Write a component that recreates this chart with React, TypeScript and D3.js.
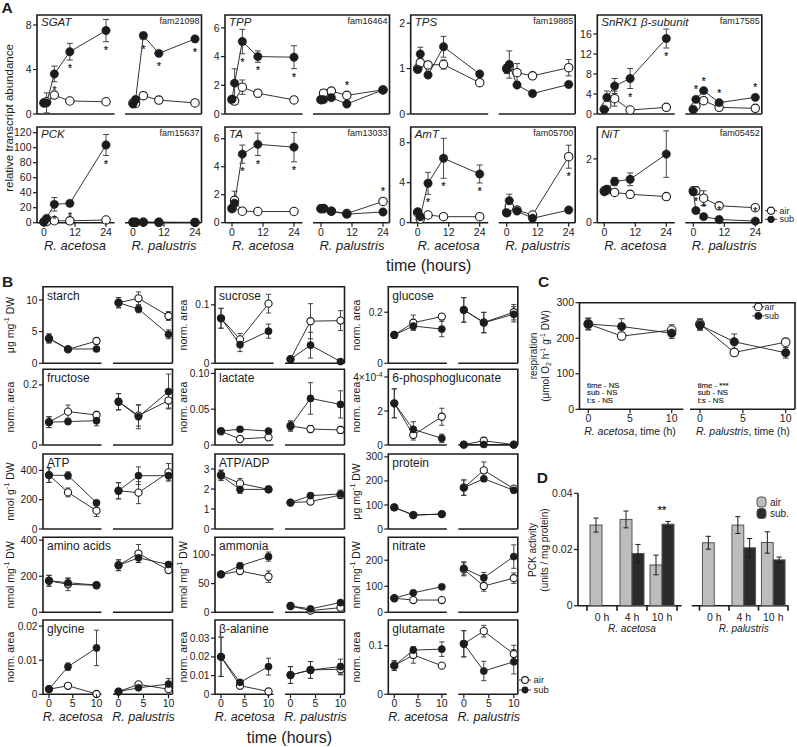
import React from 'react';
import * as d3 from 'd3';

const FONT = "'Liberation Sans', Arial, Helvetica, sans-serif";
const INK = '#1c1c1c';
const FRAME_W = 1.6;

// ================= Panel A data =================
const A_TIMES = [0, 1, 4, 10, 24];
const A_XTICKS = [0, 12, 24];
const A_GENES = ['SGAT', 'TPP', 'TPS', 'SnRK1 β-subunit', 'PCK', 'TA', 'AmT', 'NiT'];
const A_FAMS = ['fam21098', 'fam16464', 'fam19885', 'fam17585', 'fam15637', 'fam13033', 'fam05700', 'fam05452'];
const A_YMAX = [8.9, 6.9, 2.18, 19.8, 127.6, 6.84, 9.57, 3.0];
const A_YTICKS = [[0, 4, 8], [0, 2, 4, 6], [0, 1, 2], [0, 4, 8, 12, 16], [0, 20, 40, 60, 80, 100, 120], [0, 2, 4, 6], [0, 4, 8], [0, 2]];

const SGAT = {
  ace: { air: [1.0, 1.1, 1.7, 1.17, 1.1], airE: [0.1, 0.15, 0.2, 0.1, 0.08], sub: [1.0, 1.0, 3.6, 5.6, 7.5], subE: [0.15, 0.9, 0.7, 0.75, 1.0] },
  pal: { air: [1.0, 0.95, 1.65, 1.25, 1.0], airE: [0.05, 0.1, 0.3, 0.1, 0.05], sub: [0.9, 1.3, 7.05, 5.45, 6.75], subE: [0.1, 0.2, 0.3, 0.2, 0.1] },
};
const TPP = {
  ace: { air: [1.0, 0.9, 1.87, 1.45, 0.98], airE: [0.1, 0.1, 0.5, 0.25, 0.1], sub: [1.03, 2.15, 5.05, 4.0, 3.96], subE: [0.1, 1.0, 0.85, 0.4, 0.8] },
  pal: { air: [1.0, 1.45, 1.6, 1.3, 1.68], airE: [0.05, 0.25, 0.1, 0.1, 0.1], sub: [1.0, 1.0, 1.14, 0.7, 1.68], subE: [0.05, 0.05, 0.1, 0.05, 0.05] },
};
const TPS = {
  ace: { air: [1.0, 1.13, 1.08, 1.09, 0.69], airE: [0.05, 0.1, 0.08, 0.1, 0.07], sub: [0.98, 1.32, 0.86, 1.48, 0.88], subE: [0.06, 0.15, 0.06, 0.23, 0.05] },
  pal: { air: [1.0, 1.05, 0.91, 0.84, 1.02], airE: [0.05, 0.1, 0.2, 0.05, 0.18], sub: [0.99, 1.09, 0.64, 0.45, 0.65], subE: [0.1, 0.3, 0.05, 0.03, 0.03] },
};
const SNRK1 = {
  ace: { air: [1.0, 1.8, 3.07, 0.8, 1.33], airE: [0.1, 0.5, 1.5, 0.1, 0.1], sub: [0.93, 3.3, 5.6, 7.1, 15.1], subE: [0.1, 1.3, 1.5, 2.0, 1.9] },
  pal: { air: [1.0, 1.6, 2.67, 1.33, 1.13], airE: [0.1, 0.3, 0.4, 0.2, 0.1], sub: [0.93, 2.93, 4.67, 2.27, 3.33], subE: [0.1, 0.3, 0.3, 0.2, 0.2] },
};
const PCK = {
  ace: { air: [1.0, 1.5, 2.6, 2.5, 3.6], airE: [0.3, 0.5, 0.8, 0.8, 0.8], sub: [1.3, 5.8, 24.5, 25.8, 103.6], subE: [0.5, 1.5, 9, 4, 14] },
  pal: { air: [0.5, 0.5, 0.6, 0.5, 0.4], airE: [0.2, 0.2, 0.2, 0.2, 0.2], sub: [0.6, 0.6, 0.8, 0.5, 0.4], subE: [0.2, 0.2, 0.2, 0.2, 0.2] },
};
const TA = {
  ace: { air: [1.0, 1.6, 0.82, 0.8, 0.8], airE: [0.1, 0.65, 0.05, 0.05, 0.05], sub: [1.03, 1.4, 4.9, 5.6, 5.4], subE: [0.2, 0.2, 0.65, 0.8, 1.05] },
  pal: { air: [1.0, 1.0, 0.82, 0.65, 1.52], airE: [0.05, 0.05, 0.05, 0.05, 0.05], sub: [1.0, 1.03, 0.82, 0.61, 0.77], subE: [0.05, 0.05, 0.05, 0.05, 0.05] },
};
const AMT = {
  ace: { air: [1.0, 0.37, 0.77, 0.6, 0.6], airE: [0.05, 0.1, 0.1, 0.05, 0.05], sub: [1.1, 0.6, 3.94, 6.44, 4.87], subE: [0.1, 0.1, 1.1, 2.0, 0.9] },
  pal: { air: [1.0, 1.6, 1.27, 0.77, 6.6], airE: [0.05, 0.3, 0.15, 0.1, 1.15], sub: [1.0, 2.2, 1.17, 0.44, 1.27], subE: [0.05, 0.65, 0.1, 0.05, 0.05] },
};
const NIT = {
  ace: { air: [1.0, 1.02, 0.95, 0.89, 0.82], airE: [0.05, 0.08, 0.05, 0.07, 0.05], sub: [0.97, 1.05, 1.29, 1.36, 2.15], subE: [0.05, 0.1, 0.13, 0.2, 0.73] },
  pal: { air: [1.0, 1.0, 0.77, 0.53, 0.47], airE: [0.05, 0.12, 0.23, 0.06, 0.07], sub: [0.97, 0.38, 0.19, 0.1, 0.05], subE: [0.1, 0.03, 0.03, 0.02, 0.02] },
};
const A_DATA = [SGAT, TPP, TPS, SNRK1, PCK, TA, AMT, NIT];

// significance asterisks: [species, time index, series, side (b = below, a = above)]
const A_STARS = [
  [['ace', 2, 'sub', 'b'], ['ace', 3, 'sub', 'b'], ['ace', 4, 'sub', 'b'], ['pal', 2, 'sub', 'b'], ['pal', 3, 'sub', 'b'], ['pal', 4, 'sub', 'b']],
  [['ace', 2, 'sub', 'b'], ['ace', 3, 'sub', 'b'], ['ace', 4, 'sub', 'b'], ['pal', 3, 'air', 'a']],
  [],
  [['ace', 3, 'sub', 'b'], ['ace', 4, 'sub', 'b'], ['pal', 1, 'sub', 'a'], ['pal', 2, 'sub', 'a'], ['pal', 3, 'sub', 'a'], ['pal', 4, 'sub', 'a']],
  [['ace', 2, 'sub', 'b'], ['ace', 3, 'sub', 'b'], ['ace', 4, 'sub', 'b']],
  [['ace', 2, 'sub', 'b'], ['ace', 3, 'sub', 'b'], ['ace', 4, 'sub', 'b'], ['pal', 4, 'air', 'a']],
  [['ace', 2, 'sub', 'b'], ['ace', 3, 'sub', 'b'], ['ace', 4, 'sub', 'b'], ['pal', 4, 'air', 'b']],
  [['pal', 1, 'sub', 'a'], ['pal', 2, 'sub', 'a'], ['pal', 3, 'sub', 'a'], ['pal', 4, 'sub', 'a']],
];

// ================= Panel B data =================
const B_TIMES = [0, 4, 10];
const B_XTICKS = [0, 5, 10];
const B_NAMES = ['starch', 'sucrose', 'glucose', 'fructose', 'lactate', '6-phosphogluconate', 'ATP', 'ATP/ADP', 'protein', 'amino acids', 'ammonia', 'nitrate', 'glycine', 'β-alanine', 'glutamate'];
const B_UNITS = ['ug', 'norm', 'norm', 'norm', 'norm', 'norm', 'nmolg', '', 'ug', 'nmolmg', 'nmolmg', 'nmolmg', 'norm', 'norm', 'norm'];
const B_YMAX = [12.1, 0.131, 0.30, 0.252, 0.1057, 4.45e-4, 512, 3.75, 312, 416, 130.7, 288, 0.0218, 0.0397, 0.153];
const B_YTICKS = [[0, 5, 10], [0, 0.1], [0, 0.2], [0, 0.2], [0, 0.05, 0.1], [0, 2e-4, 4e-4], [0, 200, 400], [0, 1, 2, 3], [0, 100, 200, 300], [0, 200, 400], [0, 50, 100], [0, 100, 200], [0, 0.01, 0.02], [0, 0.01, 0.02, 0.03], [0, 0.1]];
const B_YTICKLABELS = [['0', '5', '10'], ['0', '0.1'], ['0', '0.2'], ['0', '0.2'], ['0', '0.05', '0.10'], ['0', '2', 'SCI4'], ['0', '200', '400'], ['0', '1', '2', '3'], ['0', '100', '200', '300'], ['0', '200', '400'], ['0', '50', '100'], ['0', '100', '200'], ['0', '0.01', '0.02'], ['0', '0.01', '0.02', '0.03'], ['0', '0.1']];

const STARCH = {
  ace: { air: [3.9, 2.2, 3.52], airE: [0.7, 0.2, 0.5], sub: [3.95, 2.26, 2.26], subE: [0.7, 0.2, 0.3] },
  pal: { air: [9.57, 10.27, 7.47], airE: [0.8, 1.0, 0.7], sub: [9.57, 8.58, 4.58], subE: [0.8, 0.6, 0.7] },
};
const SUCROSE = {
  ace: { air: [0.077, 0.041, 0.102], airE: [0.017, 0.01, 0.016], sub: [0.077, 0.032, 0.055], subE: [0.017, 0.012, 0.012] },
  pal: { air: [0.007, 0.072, 0.073], airE: [0.002, 0.03, 0.017], sub: [0.007, 0.031, 0.003], subE: [0.002, 0.022, 0.002] },
};
const GLUCOSE = {
  ace: { air: [0.111, 0.159, 0.183], airE: [0.01, 0.03, 0.012], sub: [0.111, 0.146, 0.134], subE: [0.01, 0.015, 0.03] },
  pal: { air: [0.209, 0.16, 0.2], airE: [0.048, 0.04, 0.03], sub: [0.209, 0.159, 0.192], subE: [0.048, 0.04, 0.03] },
};
const FRUCTOSE = {
  ace: { air: [0.076, 0.111, 0.1], airE: [0.018, 0.022, 0.012], sub: [0.076, 0.078, 0.081], subE: [0.018, 0.005, 0.017] },
  pal: { air: [0.144, 0.098, 0.148], airE: [0.027, 0.035, 0.025], sub: [0.144, 0.094, 0.178], subE: [0.027, 0.04, 0.058] },
};
const LACTATE = {
  ace: { air: [0.019, 0.0084, 0.0107], airE: [0.004, 0.002, 0.002], sub: [0.0195, 0.022, 0.0195], subE: [0.004, 0.003, 0.003] },
  pal: { air: [0.0265, 0.0223, 0.021], airE: [0.007, 0.005, 0.005], sub: [0.0265, 0.065, 0.0567], subE: [0.007, 0.022, 0.019] },
};
const PGLUC = {
  ace: { air: [2.45e-4, 0.59e-4, 1.66e-4], airE: [0.85e-4, 0.3e-4, 0.5e-4], sub: [2.45e-4, 0.92e-4, 0.39e-4], subE: [0.85e-4, 0.45e-4, 0.25e-4] },
  pal: { air: [0.02e-4, 0.25e-4, 0.02e-4], airE: [0.02e-4, 0.2e-4, 0.02e-4], sub: [0.02e-4, 0.03e-4, 0.02e-4], subE: [0.02e-4, 0.02e-4, 0.02e-4] },
};
const ATP = {
  ace: { air: [368, 250, 125], airE: [50, 30, 40], sub: [368, 365, 179], subE: [50, 25, 15] },
  pal: { air: [261, 248, 387], airE: [55, 75, 60], sub: [261, 364, 364], subE: [55, 60, 30] },
};
const ATPADP = {
  ace: { air: [2.7, 2.28, 1.98], airE: [0.25, 0.25, 0.15], sub: [2.67, 1.98, 1.98], subE: [0.25, 0.2, 0.15] },
  pal: { air: [1.32, 1.37, 1.7], airE: [0.1, 0.1, 0.15], sub: [1.32, 1.67, 1.75], subE: [0.1, 0.12, 0.2] },
};
const PROTEIN = {
  ace: { air: [90, 58, 62], airE: [12, 5, 5], sub: [90, 58, 62], subE: [12, 5, 5] },
  pal: { air: [172, 244, 168], airE: [32, 35, 10], sub: [172, 209, 161], subE: [32, 10, 10] },
};
const AMINO = {
  ace: { air: [175, 155, 150], airE: [30, 35, 15], sub: [175, 164, 151], subE: [30, 25, 15] },
  pal: { air: [261, 326, 234], airE: [30, 50, 10], sub: [261, 302, 265], subE: [30, 25, 15] },
};
const AMMONIA = {
  ace: { air: [66, 72, 62], airE: [3, 5, 10], sub: [66, 81, 97], subE: [3, 5, 8] },
  pal: { air: [11, 3, 8], airE: [2, 2, 3], sub: [11, 6, 17], subE: [2, 3, 4] },
};
const NITRATE = {
  ace: { air: [54, 47, 47], airE: [5, 5, 5], sub: [54, 75, 98], subE: [5, 5, 5] },
  pal: { air: [165, 101, 131], airE: [25, 20, 20], sub: [169, 133, 214], subE: [25, 20, 45] },
};
const GLYCINE = {
  ace: { air: [0.0015, 0.0025, 0.0001], airE: [0.0003, 0.0005, 0.0002], sub: [0.0015, 0.0081, 0.0136], subE: [0.0003, 0.0011, 0.0052] },
  pal: { air: [0.0008, 0.0029, 0.0015], airE: [0.0003, 0.0006, 0.0008], sub: [0.0008, 0.0019, 0.003], subE: [0.0003, 0.0005, 0.0016] },
};
const BALANINE = {
  ace: { air: [0.02, 0.0046, 0.0015], airE: [0.0105, 0.001, 0.0005], sub: [0.0201, 0.0064, 0.0148], subE: [0.0105, 0.001, 0.0045] },
  pal: { air: [0.0103, 0.013, 0.0134], airE: [0.0045, 0.0045, 0.003], sub: [0.0103, 0.013, 0.0148], subE: [0.0045, 0.0045, 0.004] },
};
const GLUTAMATE = {
  ace: { air: [0.059, 0.081, 0.059], airE: [0.01, 0.017, 0.004], sub: [0.059, 0.091, 0.093], subE: [0.01, 0.006, 0.015] },
  pal: { air: [0.104, 0.13, 0.083], airE: [0.027, 0.012, 0.018], sub: [0.104, 0.048, 0.067], subE: [0.027, 0.02, 0.025] },
};
const B_DATA = [STARCH, SUCROSE, GLUCOSE, FRUCTOSE, LACTATE, PGLUC, ATP, ATPADP, PROTEIN, AMINO, AMMONIA, NITRATE, GLYCINE, BALANINE, GLUTAMATE];

// ================= Panel C data =================
const C_TIMES = [0, 4, 10];
const C_XTICKS = [0, 5, 10];
const C_YTICKS = [0, 100, 200, 300];
const RESP = {
  ace: { air: [240, 206, 223], airE: [15, 10, 15], sub: [240, 233, 214], subE: [17, 22, 15] },
  pal: { air: [240, 160, 189], airE: [15, 5, 10], sub: [237, 190, 159], subE: [15, 22, 15] },
};
const C_STATS_ACE = ['time - NS', 'sub - NS', 't:s - NS'];
const C_STATS_PAL = ['time - ***', 'sub - NS', 't:s - NS'];

// ================= Panel D data =================
const D_GROUPS = ['0 h', '4 h', '10 h'];
const D_YTICKS = [0, 0.02, 0.04];
const D_ACE_AIR = [0.0287, 0.0307, 0.0145];
const D_ACE_AIR_E = [0.0025, 0.003, 0.0035];
const D_ACE_SUB = [null, 0.0186, 0.029];
const D_ACE_SUB_E = [null, 0.0032, 0.001];
const D_PAL_AIR = [0.0224, 0.0287, 0.0225];
const D_PAL_AIR_E = [0.0023, 0.003, 0.0038];
const D_PAL_SUB = [null, 0.0206, 0.0163];
const D_PAL_SUB_E = [null, 0.0033, 0.001];

// ================= layout =================
const A_COL_L = [37, 225, 410.7, 597.3];
const A_ROW_T = [15, 127];
const A_ROW_B = [114, 222.7];
const A_W = 164.5;

const B_COL_L = [43, 215, 388.3];
const B_ROW_T = [286.7, 369.3, 454, 537.3, 620];
const B_ROW_B = [363.3, 445, 529, 612.3, 694.3];
const B_W = 129.5;
const B_YLAB_X = [10, 183, 356];

function Marks({ times, s, x, y, r, cap }: any) {
  const line = d3.line<number>().x((_, i) => x(times[i])).y((v) => y(v));
  const bars = (vals: number[], errs: number[], k: string) =>
    vals.map((v, i) => {
      const e = errs[i] || 0;
      const cx = x(times[i]);
      const y1 = y(v + e);
      const y2 = y(Math.max(0, v - e));
      return (
        <g key={k + i}>
          <line x1={cx} x2={cx} y1={y1} y2={y2} />
          <line x1={cx - cap} x2={cx + cap} y1={y1} y2={y1} />
          <line x1={cx - cap} x2={cx + cap} y1={y2} y2={y2} />
        </g>
      );
    });
  return (
    <g>
      <g fill="none" stroke={INK} strokeWidth={0.9}>
        <path d={line(s.air) || ''} />
        <path d={line(s.sub) || ''} />
      </g>
      <g stroke="#333" strokeWidth={0.9}>
        {bars(s.air, s.airE, 'a')}
        {bars(s.sub, s.subE, 's')}
      </g>
      {s.air.map((v: number, i: number) => (
        <circle key={'ca' + i} cx={x(times[i])} cy={y(v)} r={r} fill="#fff" stroke={INK} strokeWidth={1.1} />
      ))}
      {s.sub.map((v: number, i: number) => (
        <circle key={'cs' + i} cx={x(times[i])} cy={y(v)} r={r} fill={INK} stroke={INK} strokeWidth={0.5} />
      ))}
    </g>
  );
}

function YAxis({ L, y, ticks, labels, fs }: any) {
  return (
    <g>
      {ticks.map((t: number, i: number) => (
        <g key={i}>
          <line x1={L - 4} x2={L} y1={y(t)} y2={y(t)} stroke={INK} strokeWidth={1.2} />
          <text x={L - 5.5} y={y(t)} dy="0.35em" textAnchor="end" fontSize={fs}>
            {labels ? labels[i] : String(t)}
          </text>
        </g>
      ))}
    </g>
  );
}

function Frame({ L, R, T, B, segs }: any) {
  return (
    <g stroke={INK} strokeWidth={FRAME_W} fill="none">
      <path d={`M${L},${B}V${T}H${R}V${B}`} />
      {segs.map((s: number[], i: number) => (
        <line key={i} x1={s[0]} x2={s[1]} y1={B} y2={B} />
      ))}
    </g>
  );
}

function PanelA({ idx }: { idx: number }) {
  const row = Math.floor(idx / 4);
  const col = idx % 4;
  const L = A_COL_L[col];
  const R = L + A_W;
  const T = A_ROW_T[row];
  const B = A_ROW_B[row];
  const y = d3.scaleLinear().domain([0, A_YMAX[idx]]).range([B, T]);
  const xs: any = {
    ace: d3.scaleLinear().domain([0, 24]).range([L + 7, L + 69]),
    pal: d3.scaleLinear().domain([0, 24]).range([L + 96, L + 158]),
  };
  const data: any = A_DATA[idx];
  return (
    <g>
      <Frame L={L} R={R} T={T} B={B} segs={[[L, L + 77.5], [L + 88, R]]} />
      <YAxis L={L} y={y} ticks={A_YTICKS[idx]} fs={10.5} />
      {['ace', 'pal'].map((sp) => (
        <Marks key={sp} times={A_TIMES} s={data[sp]} x={xs[sp]} y={y} r={4.2} cap={3} />
      ))}
      <g fill="#222" stroke="#222" strokeWidth={0.25}>
        {A_STARS[idx].map((st: any, i: number) => {
          const [sp, ti, ser, side] = st;
          const v = data[sp][ser][ti];
          const e = data[sp][ser + 'E'][ti];
          const cx = xs[sp](A_TIMES[ti]);
          const cy = side === 'b' ? Math.max(y(v - e), y(v) + 5) + 6.5 : Math.min(y(v + e), y(v) - 5) - 6.5;
          return (
            <text key={i} x={cx} y={cy + 5.5} fontSize={10} textAnchor="middle">*</text>
          );
        })}
      </g>
      <text x={L + 4} y={T + 11} fontSize={11.5} fontStyle="italic">{A_GENES[idx]}</text>
      <text x={R - 2} y={T + 9} fontSize={9} textAnchor="end">{A_FAMS[idx]}</text>
      {row === 1 && (
        <g>
          {['ace', 'pal'].map((sp) => (
            <g key={sp}>
              {A_XTICKS.map((t) => (
                <g key={t}>
                  <line x1={xs[sp](t)} x2={xs[sp](t)} y1={B} y2={B + 4} stroke={INK} strokeWidth={1.2} />
                  <text x={xs[sp](t)} y={B + 13} fontSize={10.5} textAnchor="middle">{t}</text>
                </g>
              ))}
              <text x={(xs[sp](0) + xs[sp](24)) / 2} y={B + 27} fontSize={13} fontStyle="italic" textAnchor="middle">
                {sp === 'ace' ? 'R. acetosa' : 'R. palustris'}
              </text>
            </g>
          ))}
        </g>
      )}
    </g>
  );
}

function UnitLabel({ kind, x, y, fs }: any) {
  if (!kind) return null;
  const up = -fs * 0.4;
  let content: any = 'norm. area';
  if (kind === 'ug' || kind === 'nmolg' || kind === 'nmolmg') {
    const pre = kind === 'ug' ? 'μg mg' : kind === 'nmolg' ? 'nmol g' : 'nmol mg';
    content = (
      <>
        {pre}
        <tspan dy={up} fontSize={fs * 0.7}>-1</tspan>
        <tspan dy={-up}> DW</tspan>
      </>
    );
  }
  return (
    <text transform={`translate(${x},${y}) rotate(-90)`} textAnchor="middle" dy="0.35em" fontSize={fs}>
      {content}
    </text>
  );
}

function tickLabel(l: string) {
  if (l === 'SCI4') {
    return (
      <>
        4×10<tspan dy={-4} fontSize={7.5}>-4</tspan>
      </>
    );
  }
  return l;
}

function PanelB({ idx }: { idx: number }) {
  const row = Math.floor(idx / 3);
  const col = idx % 3;
  const L = B_COL_L[col];
  const R = L + B_W;
  const T = B_ROW_T[row];
  const B = B_ROW_B[row];
  const y = d3.scaleLinear().domain([0, B_YMAX[idx]]).range([B, T]);
  const xs: any = {
    ace: d3.scaleLinear().domain([0, 10]).range([L + 6, L + 53.5]),
    pal: d3.scaleLinear().domain([0, 10]).range([L + 75.5, L + 125.5]),
  };
  const data: any = B_DATA[idx];
  return (
    <g>
      <Frame L={L} R={R} T={T} B={B} segs={[[L, L + 58.5], [L + 70, R]]} />
      <YAxis L={L} y={y} ticks={B_YTICKS[idx]} labels={B_YTICKLABELS[idx].map(tickLabel)} fs={10.2} />
      {['ace', 'pal'].map((sp) => (
        <Marks key={sp} times={B_TIMES} s={data[sp]} x={xs[sp]} y={y} r={3.6} cap={2.6} />
      ))}
      <text x={L + 4} y={T + 13} fontSize={12}>{B_NAMES[idx]}</text>
      <UnitLabel kind={B_UNITS[idx]} x={B_YLAB_X[col]} y={(T + B) / 2} fs={10.5} />
      {row === 4 && (
        <g>
          {['ace', 'pal'].map((sp) => (
            <g key={sp}>
              {B_XTICKS.map((t) => (
                <g key={t}>
                  <line x1={xs[sp](t)} x2={xs[sp](t)} y1={B} y2={B + 4} stroke={INK} strokeWidth={1.2} />
                  <text x={xs[sp](t)} y={B + 12.5} fontSize={10.5} textAnchor="middle">{t}</text>
                </g>
              ))}
              <text x={(xs[sp](0) + xs[sp](10)) / 2} y={B + 26.5} fontSize={12.5} fontStyle="italic" textAnchor="middle">
                {sp === 'ace' ? 'R. acetosa' : 'R. palustris'}
              </text>
            </g>
          ))}
        </g>
      )}
    </g>
  );
}

function Legend({ x, y1, y2, tx, r, fs }: any) {
  return (
    <g fontSize={fs}>
      <line x1={x - 6} x2={x + 6} y1={y1} y2={y1} stroke={INK} strokeWidth={0.9} />
      <circle cx={x} cy={y1} r={r} fill="#fff" stroke={INK} strokeWidth={1.1} />
      <text x={tx} y={y1} dy="0.35em">air</text>
      <line x1={x - 6} x2={x + 6} y1={y2} y2={y2} stroke={INK} strokeWidth={0.9} />
      <circle cx={x} cy={y2} r={r} fill={INK} />
      <text x={tx} y={y2} dy="0.35em">sub</text>
    </g>
  );
}

function PanelC() {
  const L = 579.5;
  const R = 795;
  const T = 302.7;
  const B = 409.3;
  const y = d3.scaleLinear().domain([0, 300]).range([B, T]);
  const xs: any = {
    ace: d3.scaleLinear().domain([0, 10]).range([588.3, 671.7]),
    pal: d3.scaleLinear().domain([0, 10]).range([700, 785.7]),
  };
  return (
    <g>
      <Frame L={L} R={R} T={T} B={B} segs={[[L, 683.3], [690, R]]} />
      <YAxis L={L} y={y} ticks={C_YTICKS} fs={10.5} />
      {['ace', 'pal'].map((sp) => (
        <g key={sp}>
          <Marks times={C_TIMES} s={(RESP as any)[sp]} x={xs[sp]} y={y} r={4.3} cap={3} />
          {C_XTICKS.map((t) => (
            <g key={t}>
              <line x1={xs[sp](t)} x2={xs[sp](t)} y1={B} y2={B + 4} stroke={INK} strokeWidth={1.2} />
              <text x={xs[sp](t)} y={B + 13} fontSize={10.5} textAnchor="middle">{t}</text>
            </g>
          ))}
          <text x={(xs[sp](0) + xs[sp](10)) / 2} y={B + 26} fontSize={10.5} textAnchor="middle">
            <tspan fontStyle="italic">{sp === 'ace' ? 'R. acetosa' : 'R. palustris'}</tspan>, time (h)
          </text>
          <g fill="#222" stroke="#222" strokeWidth={0.15}>
            {(sp === 'ace' ? C_STATS_ACE : C_STATS_PAL).map((s, i) => (
              <text key={s} x={sp === 'ace' ? 587 : 697.7} y={387.5 + i * 7.9} fontSize={7.8}>{s}</text>
            ))}
          </g>
        </g>
      ))}
      <Legend x={758.3} y1={306.9} y2={315.9} tx={764.5} r={3.8} fs={9} />
      <g fontSize={10}>
        <text transform={`translate(533,356) rotate(-90)`} textAnchor="middle" dy="0.35em">respiration</text>
        <text transform={`translate(545,356) rotate(-90)`} textAnchor="middle" dy="0.35em">
          (μmol O<tspan dy={2} fontSize={7}>2</tspan>
          <tspan dy={-2}> h</tspan>
          <tspan dy={-4} fontSize={7}>-1</tspan>
          <tspan dy={4}> g</tspan>
          <tspan dy={-4} fontSize={7}>-1</tspan>
          <tspan dy={4}> DW)</tspan>
        </text>
      </g>
    </g>
  );
}

function PanelD() {
  const L = 578;
  const B = 605.7;
  const y = d3.scaleLinear().domain([0, 0.04]).range([B, 493.3]);
  const groups = [
    { sp: 'R. acetosa', range: [587, 677], seg: [L, 681.7], air: D_ACE_AIR, airE: D_ACE_AIR_E, sub: D_ACE_SUB, subE: D_ACE_SUB_E },
    { sp: 'R. palustris', range: [699.5, 788], seg: [691.7, 788.3], air: D_PAL_AIR, airE: D_PAL_AIR_E, sub: D_PAL_SUB, subE: D_PAL_SUB_E },
  ];
  const inner = d3.scaleBand().domain(['air', 'sub']);
  const errBar = (cx: number, v: number, e: number, k: string) => (
    <g key={k} stroke={INK} strokeWidth={1}>
      <line x1={cx} x2={cx} y1={y(v + e)} y2={y(v - e)} />
      <line x1={cx - 2.6} x2={cx + 2.6} y1={y(v + e)} y2={y(v + e)} />
      <line x1={cx - 2.6} x2={cx + 2.6} y1={y(v - e)} y2={y(v - e)} />
    </g>
  );
  return (
    <g>
      <line x1={L} x2={L} y1={493.3} y2={B} stroke={INK} strokeWidth={FRAME_W} />
      <YAxis L={L} y={y} ticks={D_YTICKS} labels={['0', '0.02', '0.04']} fs={10.5} />
      {groups.map((g, gi) => {
        const xb = d3.scaleBand().domain(D_GROUPS).range(g.range as [number, number]).padding(0);
        const ib = inner.copy().range([0, xb.bandwidth()]).paddingInner(0).paddingOuter(0.25);
        return (
          <g key={gi}>
            <line x1={g.seg[0]} x2={g.seg[1]} y1={B} y2={B} stroke={INK} strokeWidth={FRAME_W} />
            {[...D_GROUPS.map((d) => xb(d) as number), g.range[1]].map((bx, i) => (
              <line key={i} x1={bx} x2={bx} y1={B} y2={B + 5} stroke={INK} strokeWidth={1.6} />
            ))}
            {D_GROUPS.map((d, i) => {
              const gx = xb(d) as number;
              const items: any[] = [];
              const av = g.air[i];
              const sv = g.sub[i];
              if (av != null) {
                const bx = gx + (ib('air') as number);
                items.push(<rect key="a" x={bx} y={y(av)} width={ib.bandwidth()} height={B - y(av)} fill="#bdbdbd" stroke="#555" strokeWidth={1} />);
                items.push(errBar(bx + ib.bandwidth() / 2, av, g.airE[i] as number, 'ea'));
              }
              if (sv != null) {
                const bx = gx + (ib('sub') as number);
                items.push(<rect key="s" x={bx} y={y(sv)} width={ib.bandwidth()} height={B - y(sv)} fill="#2b2b2b" stroke="#555" strokeWidth={1} />);
                items.push(errBar(bx + ib.bandwidth() / 2, sv, g.subE[i] as number, 'es'));
              }
              return (
                <g key={d}>
                  {items}
                  <text x={gx + xb.bandwidth() / 2} y={B + 15.5} fontSize={10.5} textAnchor="middle">{d}</text>
                </g>
              );
            })}
            <text x={(g.range[0] + g.range[1]) / 2} y={B + 26.5} fontSize={10} fontStyle="italic" textAnchor="middle">{g.sp}</text>
          </g>
        );
      })}
      <text x={662} y={514} fontSize={11} textAnchor="middle" fill="#222" stroke="#222" strokeWidth={0.25}>**</text>
      <g fontSize={10}>
        <rect x={757} y={497} width={9} height={10} rx={3} fill="#bdbdbd" stroke="#555" strokeWidth={1} />
        <text x={770} y={502} dy="0.35em">air</text>
        <rect x={757} y={508.5} width={9} height={10} rx={3} fill="#2b2b2b" stroke="#555" strokeWidth={1} />
        <text x={770} y={513.5} dy="0.35em">sub.</text>
      </g>
      <g fontSize={10}>
        <text transform={`translate(532,550) rotate(-90)`} textAnchor="middle" dy="0.35em">PCK activity</text>
        <text transform={`translate(544,550) rotate(-90)`} textAnchor="middle" dy="0.35em">(units / mg protein)</text>
      </g>
    </g>
  );
}

export default function App() {
  return (
    <svg
      width={797}
      height={747}
      viewBox="0 0 797 747"
      style={{ position: 'absolute', left: 0, top: 0, background: '#fff' }}
      fontFamily={FONT}
      fill={INK}
    >
      <rect x={0} y={0} width={797} height={747} fill="#fff" />
      <g fontWeight="bold" fontSize={15.5}>
        <text x={1.5} y={13}>A</text>
        <text x={2} y={286.7}>B</text>
        <text x={538} y={286.7}>C</text>
        <text x={536.7} y={482.7}>D</text>
      </g>
      {A_GENES.map((_, i) => (
        <PanelA key={i} idx={i} />
      ))}
      <text transform="translate(9,118) rotate(-90)" textAnchor="middle" dy="0.35em" fontSize={11.5}>
        relative transcript abundance
      </text>
      <Legend x={771} y1={210.7} y2={219.3} tx={779.5} r={3.6} fs={9} />
      <text x={386} y={271} fontSize={16}>time (hours)</text>

      {B_NAMES.map((_, i) => (
        <PanelB key={i} idx={i} />
      ))}
      <Legend x={525} y1={680} y2={690} tx={533.5} r={3.4} fs={9.5} />
      <text x={246.7} y={742.5} fontSize={16}>time (hours)</text>

      <PanelC />
      <PanelD />
    </svg>
  );
}
